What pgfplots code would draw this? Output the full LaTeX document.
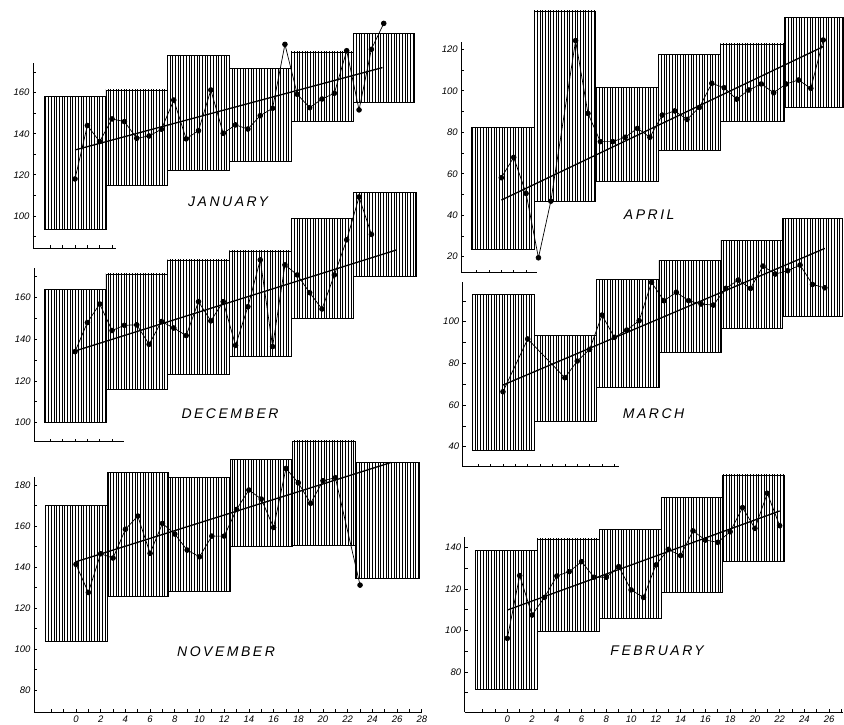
\documentclass[border=0pt]{standalone}
\usepackage{pgfplots}
\pgfplotsset{compat=1.18}
\usetikzlibrary{patterns.meta}
\usepackage{fontspec}
\setmainfont{Liberation Sans}

\newcommand{\bx}[4]{\addplot[boxst] coordinates {(#1,#3) (#2,#3) (#2,#4) (#1,#4)} -- cycle;}

\pgfplotsset{
  monthaxis/.style={
    axis x line=bottom, axis y line=left,
    axis line style={-, line width=0.9pt},
    clip=false, anchor=south west,
    tick align=inside, major tick length=3pt, minor tick length=3pt,
    tick style={black, line width=0.7pt},
    tick label style={font=\itshape\fontsize{9.5}{10}\selectfont},
    /pgf/number format/assume math mode=true,
    /pgf/number format/1000 sep={},
  },
  boxst/.style={draw=black, line width=0.6pt, pattern={Lines[angle=90,distance=2.7pt,line width=0.9pt]}, pattern color=black},
  datast/.style={black, line width=0.7pt, mark=*, mark size=2.4pt, mark options={solid, fill=black}},
  trendst/.style={black, line width=1.3pt},
}
\tikzset{monthlbl/.style={font=\itshape\fontsize{14}{14}\selectfont\addfontfeature{LetterSpace=18}}}

\begin{document}
\begin{tikzpicture}
\useasboundingbox (0,0) rectangle (844pt,724pt);

% ---------------- JANUARY ----------------
\begin{axis}[monthaxis, at={(33pt,476pt)}, x=12.35pt, y=2.055pt,
  xmin=-3.4, xmax=3.3, ymin=84.4, ymax=174.5,
  xtick={-2,-1,...,3}, xticklabels={},
  ytick={100,120,140,160}, minor ytick={90,110,130,150,170}]
\bx{-2.5}{2.5}{93.5}{158.1}
\bx{2.5}{7.5}{115.1}{161.3}
\bx{7.5}{12.5}{122.4}{178.2}
\bx{12.5}{17.5}{126.4}{171.7}
\bx{17.5}{22.5}{145.9}{179.8}
\bx{22.5}{27.5}{155.1}{188.8}
\addplot[datast] coordinates {(0,118.0)(1,144.0)(2,136.2)(3,147.2)(4,145.9)(5,137.8)(6,138.9)(7,142.2)(8,156.4)(9,137.5)(10,141.5)(11,161.3)(12,140.2)(13,144.3)(14,142.3)(15,148.8)(16,152.4)(17,183.5)(18,159.2)(19,152.7)(20,156.9)(21,159.7)(22,180.4)(23,151.6)(24,181.1)(25,193.7)};
\addplot[trendst] coordinates {(0,132.1)(24.9,172.2)};
\node[monthlbl] at (axis cs:12.4,107) {JANUARY};
\end{axis}

% ---------------- DECEMBER ----------------
\begin{axis}[monthaxis, at={(34.25pt,282.3pt)}, x=12.35pt, y=2.09pt,
  xmin=-3.3, xmax=4.0, ymin=90.9, ymax=173.9,
  xtick={-2,-1,...,3}, xticklabels={},
  ytick={100,120,140,160}, minor ytick={110,130,150,170}]
\bx{-2.5}{2.5}{100.0}{163.8}
\bx{2.5}{7.5}{116.0}{171.2}
\bx{7.5}{12.5}{123.2}{177.9}
\bx{12.5}{17.5}{131.6}{182.2}
\bx{17.5}{22.5}{150.0}{197.8}
\bx{22.5}{27.6}{169.9}{210.0}
\addplot[datast] coordinates {(0,134.0)(1,147.9)(2,156.8)(3,144.1)(4,146.6)(5,146.8)(6,137.5)(7,148.4)(8,145.3)(9,141.7)(10,157.9)(11,148.7)(12,157.9)(13,137.0)(14,155.5)(15,177.9)(16,136.4)(17,175.5)(18,170.7)(19,162.2)(20,154.4)(21,170.7)(22,187.5)(23,208.0)(24,190.1)};
\addplot[trendst] coordinates {(0,134.3)(26,182.6)};
\node[monthlbl] at (axis cs:12.55,104.2) {DECEMBER};
\end{axis}

% ---------------- NOVEMBER ----------------
\begin{axis}[monthaxis, at={(34pt,12pt)}, x=12.35pt, y=2.05pt,
  xmin=-3.4, xmax=28, ymin=69.3, ymax=183.9,
  xtick={0,2,...,28}, minor xtick={-2,-1,...,28},
  ytick={80,100,...,180}, minor ytick={90,110,130,150,170}]
\bx{-2.5}{2.5}{103.6}{170.2}
\bx{2.5}{7.5}{125.5}{186.2}
\bx{7.5}{12.5}{128.3}{183.9}
\bx{12.5}{17.5}{150.2}{192.5}
\bx{17.5}{22.6}{150.7}{201.5}
\bx{22.6}{27.8}{134.5}{191.0}
\addplot[datast] coordinates {(0,141.3)(1,127.6)(2,146.5)(3,144.4)(4,158.4)(5,164.9)(6,146.7)(7,161.3)(8,156.1)(9,148.3)(10,145.0)(11,155.1)(12,155.1)(13,168.1)(14,177.6)(15,173.2)(16,159.3)(17,188.1)(18,181.1)(19,171.1)(20,182.1)(21,183.6)(23,131.2)};
\addplot[trendst] coordinates {(0,142.6)(25.5,191.0)};
\node[monthlbl] at (axis cs:12.15,98.7) {NOVEMBER};
\end{axis}

% ---------------- APRIL ----------------
\begin{axis}[monthaxis, at={(461.2pt,451.3pt)}, x=12.38pt, y=2.074pt,
  xmin=-3.24, xmax=2.9, ymin=12.3, ymax=123.7,
  xtick={-2,-1,...,2}, xticklabels={},
  ytick={20,40,...,120}, minor ytick={30,50,70,90,110}]
\bx{-2.4}{2.65}{23.5}{82.4}
\bx{2.65}{7.6}{46.8}{138.5}
\bx{7.6}{12.7}{56.2}{101.7}
\bx{12.7}{17.7}{71.4}{117.7}
\bx{17.7}{22.85}{85.1}{122.6}
\bx{22.85}{27.6}{92.0}{135.4}
\addplot[datast] coordinates {(0,58.1)(1,67.9)(2,50.5)(3,19.5)(4,46.8)(6,124.2)(7,89.1)(8,75.5)(9,75.5)(10,77.6)(11,81.9)(12,77.6)(13,88.3)(14,90.3)(15,86.2)(16,92.0)(17,103.6)(18,101.5)(19,96.0)(20,100.4)(21,103.3)(22,99.1)(23,103.3)(24,105.2)(25,101.2)(26,124.5)};
\addplot[trendst] coordinates {(0,47.3)(26,121.3)};
\node[monthlbl] at (axis cs:11.95,40.1) {APRIL};
\end{axis}

% ---------------- MARCH ----------------
\begin{axis}[monthaxis, at={(462.6pt,257.3pt)}, x=12.38pt, y=2.083pt,
  xmin=-3.26, xmax=9.37, ymin=30.4, ymax=119.2,
  xtick={-2,-1,...,9}, xticklabels={},
  ytick={40,60,80,100}, minor ytick={50,70,90,110}]
\bx{-2.45}{2.55}{38.4}{113.1}
\bx{2.55}{7.5}{52.0}{93.6}
\bx{7.5}{12.6}{68.3}{120.5}
\bx{12.6}{17.6}{85.1}{129.3}
\bx{17.6}{22.6}{96.8}{139.2}
\bx{22.6}{27.4}{102.7}{149.6}
\addplot[datast] coordinates {(0,66.4)(2,91.7)(5,73.1)(6,81.1)(7,86.7)(8,103.2)(9,92.5)(10,96.0)(11,100.5)(12,118.9)(13,110.1)(14,114.1)(15,110.1)(16,108.5)(17,108.0)(18,116.0)(19,120.0)(20,116.0)(21,126.7)(22,122.9)(23,124.5)(24,127.2)(25,117.9)(26,116.3)};
\addplot[trendst] coordinates {(0,69.6)(26,135.2)};
\node[monthlbl] at (axis cs:12.17,56.0) {MARCH};
\end{axis}

% ---------------- FEBRUARY ----------------
\begin{axis}[monthaxis, at={(464.6pt,11.7pt)}, x=12.38pt, y=2.078pt,
  xmin=-3.45, xmax=27.1, ymin=60.6, ymax=145,
  xtick={0,2,...,26}, minor xtick={-2,-1,...,27},
  ytick={80,100,...,140}, minor ytick={70,90,110,130}]
\bx{-2.55}{2.4}{71.6}{138.7}
\bx{2.4}{7.4}{99.7}{144.0}
\bx{7.4}{12.4}{105.8}{148.7}
\bx{12.4}{17.4}{118.2}{164.1}
\bx{17.4}{22.4}{133.1}{174.8}
\addplot[datast] coordinates {(0,96.2)(1,126.4)(2,107.4)(3,115.9)(4,126.2)(5,128.3)(6,133.1)(7,125.6)(8,125.6)(9,130.7)(10,119.5)(11,115.9)(12,131.5)(13,139.0)(14,136.0)(15,147.9)(16,143.5)(17,142.4)(18,147.5)(19,159.1)(20,149.1)(21,166.0)(22,150.4)};
\addplot[trendst] coordinates {(0,109.8)(22,157.5)};
\node[monthlbl] at (axis cs:12.1,90.1) {FEBRUARY};
\end{axis}
\end{tikzpicture}
\end{document}
